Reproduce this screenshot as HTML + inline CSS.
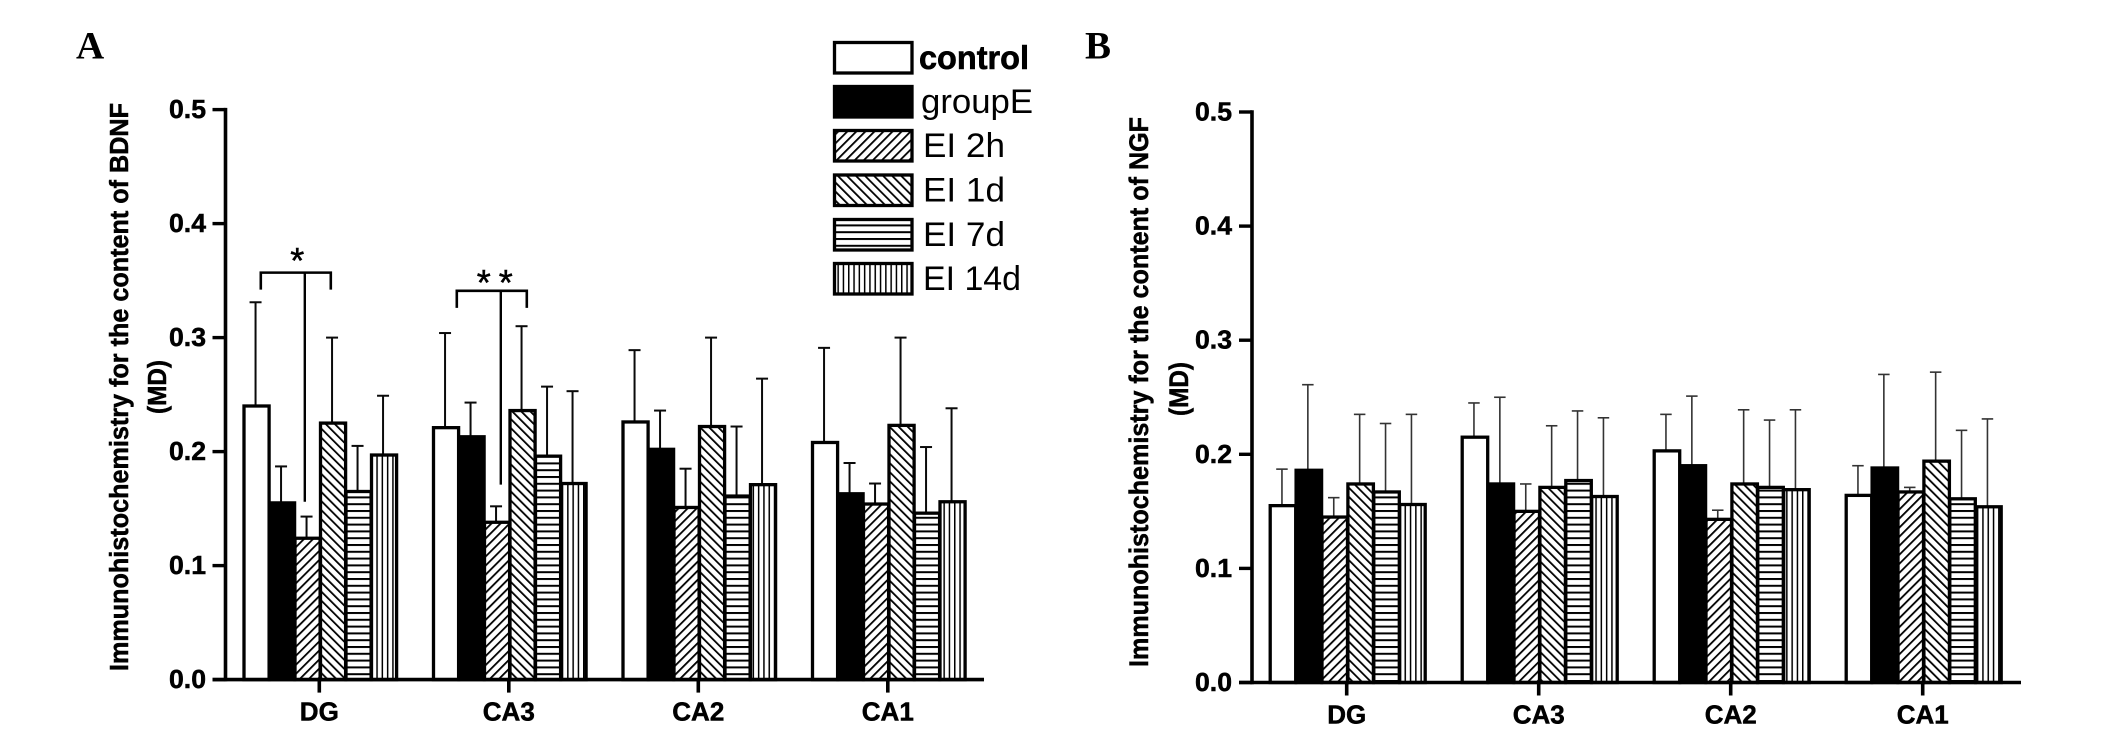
<!DOCTYPE html>
<html lang="en">
<head>
<meta charset="utf-8">
<title>BDNF and NGF immunohistochemistry</title>
<style>
html,body{margin:0;padding:0;background:#fff;}
svg{display:block;}
text{fill:#000;font-family:"Liberation Sans",sans-serif;}
.serif{font-family:"Liberation Serif",serif;font-weight:bold;}
.bold{font-weight:bold;stroke:#000;stroke-width:0.5px;}
</style>
</head>
<body>
<svg id="figure" xmlns="http://www.w3.org/2000/svg" width="2126" height="752" viewBox="0 0 2126 752">
  <defs>
    <pattern id="hatch-up" patternUnits="userSpaceOnUse" width="6.4" height="6.4" patternTransform="rotate(45)">
      <rect width="6.4" height="6.4" fill="#fff"/><rect x="0" y="0" width="1.8" height="6.4" fill="#000"/>
    </pattern>
    <pattern id="hatch-down" patternUnits="userSpaceOnUse" width="6.4" height="6.4" patternTransform="rotate(-45)">
      <rect width="6.4" height="6.4" fill="#fff"/><rect x="0" y="0" width="1.8" height="6.4" fill="#000"/>
    </pattern>
    <pattern id="hatch-h" patternUnits="userSpaceOnUse" width="8" height="6.8">
      <rect width="8" height="6.8" fill="#fff"/><rect x="0" y="0" width="8" height="2" fill="#000"/>
    </pattern>
    <pattern id="hatch-v" patternUnits="userSpaceOnUse" width="5.3" height="8">
      <rect width="5.3" height="8" fill="#fff"/><rect x="0" y="0" width="1.5" height="8" fill="#000"/>
    </pattern>
  </defs>
  <rect width="2126" height="752" fill="#fff"/>

  <text class="serif" x="76" y="58.5" font-size="39">A</text>
  <text class="serif" x="1085" y="58.5" font-size="39">B</text>

  <g id="panel-a">
    <text class="bold" transform="translate(128,387) rotate(-90)" text-anchor="middle" font-size="25.5" textLength="568" lengthAdjust="spacingAndGlyphs">Immunohistochemistry for the content of BDNF</text>
    <text class="bold" transform="translate(166,387) rotate(-90)" text-anchor="middle" font-size="25.5" textLength="54" lengthAdjust="spacingAndGlyphs">(MD)</text>
  </g>
  <g id="panel-b">
    <text class="bold" transform="translate(1148,392) rotate(-90)" text-anchor="middle" font-size="27" textLength="550" lengthAdjust="spacingAndGlyphs">Immunohistochemistry for the content of NGF</text>
    <text class="bold" transform="translate(1188,389) rotate(-90)" text-anchor="middle" font-size="27" textLength="54" lengthAdjust="spacingAndGlyphs">(MD)</text>
  </g>
  <g id="legend"></g>
</svg>

<script>
// Chart data. Each row is one brain region; columns follow seriesNames.
const categories = ['DG', 'CA3', 'CA2', 'CA1'];
const seriesNames = ['control', 'groupE', 'EI 2h', 'EI 1d', 'EI 7d', 'EI 14d'];
const yTicks = [0, 0.1, 0.2, 0.3, 0.4, 0.5];
const yTickLabels = ['0.0', '0.1', '0.2', '0.3', '0.4', '0.5'];

const bdnfMeans = [
  [0.240, 0.155, 0.124, 0.225, 0.165, 0.197],
  [0.221, 0.213, 0.138, 0.236, 0.196, 0.172],
  [0.226, 0.202, 0.151, 0.222, 0.161, 0.171],
  [0.208, 0.163, 0.154, 0.223, 0.146, 0.156]
];
const bdnfUpper = [
  [0.331, 0.187, 0.143, 0.300, 0.205, 0.249],
  [0.304, 0.243, 0.152, 0.310, 0.257, 0.253],
  [0.289, 0.236, 0.185, 0.300, 0.222, 0.264],
  [0.291, 0.190, 0.172, 0.300, 0.204, 0.238]
];
const ngfMeans = [
  [0.155, 0.186, 0.145, 0.174, 0.167, 0.156],
  [0.215, 0.174, 0.150, 0.171, 0.177, 0.163],
  [0.203, 0.190, 0.143, 0.174, 0.171, 0.169],
  [0.164, 0.188, 0.167, 0.194, 0.161, 0.154]
];
const ngfUpper = [
  [0.187, 0.261, 0.162, 0.235, 0.227, 0.235],
  [0.245, 0.250, 0.174, 0.225, 0.238, 0.232],
  [0.235, 0.251, 0.151, 0.239, 0.230, 0.239],
  [0.190, 0.270, 0.171, 0.272, 0.221, 0.231]
];
// Significance annotations on panel A: group index, bracket level, lower end of the stem, star count
const sigCategories = [0, 1];
const sigLevels = [0.357, 0.341];
const sigStemEnds = [0.156, 0.171];
const sigStarCounts = [1, 2];

const NS = 'http://www.w3.org/2000/svg';
const seriesFills = ['#fff', '#000', 'url(#hatch-up)', 'url(#hatch-down)', 'url(#hatch-h)', 'url(#hatch-v)'];

function mk(parent, tag, attrs, txt) {
  const el = document.createElementNS(NS, tag);
  for (const k in attrs) el.setAttribute(k, attrs[k]);
  if (txt !== undefined) el.textContent = txt;
  parent.appendChild(el);
  return el;
}

function drawPanel(parentId, suffix, means, upper, cfg) {
  const parent = document.getElementById(parentId);
  const y = v => cfg.y0 - v * cfg.yPerUnit;
  const xCenter = g => cfg.x0 + g * cfg.step;
  const xBar = (g, s) => xCenter(g) + (s - seriesNames.length / 2) * cfg.barW;

  categories.forEach((cat, g) => {
    seriesNames.forEach((ser, s) => {
      const cx = xBar(g, s) + cfg.barW / 2;
      const stem = mk(parent, 'line', {x1: cx, x2: cx, y1: y(means[g][s]), y2: y(upper[g][s]), stroke: cfg.errColor, 'stroke-width': cfg.errW});
      
      
      const cap = mk(parent, 'line', {x1: cx - cfg.capW / 2, x2: cx + cfg.capW / 2, y1: y(upper[g][s]), y2: y(upper[g][s]), stroke: cfg.errColor, 'stroke-width': cfg.errW});
      
      
    });
    seriesNames.forEach((ser, s) => {
      const bar = mk(parent, 'rect', {x: xBar(g, s) + 1.2, y: y(means[g][s]), width: cfg.barW - 0.4, height: cfg.y0 - y(means[g][s]), fill: seriesFills[s], stroke: '#000', 'stroke-width': 3.3});
      
      
    });
  });

  const yAxis = mk(parent, 'line', {x1: cfg.axisX, x2: cfg.axisX, y1: y(0.5) - 1.7, y2: cfg.y0 + 1.7, stroke: '#000', 'stroke-width': 3.6});
  
  
  const xAxis = mk(parent, 'line', {x1: cfg.axisX - 13, x2: cfg.axisEnd, y1: cfg.y0, y2: cfg.y0, stroke: '#000', 'stroke-width': 3.6});
  
  

  yTicks.forEach((v, i) => {
    const tick = mk(parent, 'line', {x1: cfg.axisX - 13, x2: cfg.axisX, y1: y(v), y2: y(v), stroke: '#000', 'stroke-width': 3.4});
    
    
    const label = mk(parent, 'text', {class: 'bold', x: cfg.tickLabelX, y: y(v) + 8.5, 'text-anchor': 'end', 'font-size': 25.5, textLength: 37, lengthAdjust: 'spacingAndGlyphs'}, yTickLabels[i]);
    
    
  });

  categories.forEach((cat, g) => {
    const tick = mk(parent, 'line', {x1: xCenter(g), x2: xCenter(g), y1: cfg.y0, y2: cfg.y0 + 13, stroke: '#000', 'stroke-width': 3.6});
    
    
    const label = mk(parent, 'text', {class: 'bold', x: xCenter(g), y: cfg.y0 + 41, 'text-anchor': 'middle', 'font-size': 26}, cat);
    
    
  });
  return {y, xBar};
}

const scaleA = drawPanel('panel-a', 'a', bdnfMeans, bdnfUpper, {
  y0: 679.6, yPerUnit: 1140, x0: 319.3, step: 189.5, barW: 25.5, axisX: 225.5, axisEnd: 984,
  tickLabelX: 206, errColor: '#0a0a0a', errW: 2, capW: 12
});
drawPanel('panel-b', 'b', ngfMeans, ngfUpper, {
  y0: 682.5, yPerUnit: 1141, x0: 1346.7, step: 192, barW: 25.9, axisX: 1252, axisEnd: 2021,
  tickLabelX: 1232, errColor: '#333', errW: 1.6, capW: 11.5
});

// Significance brackets on panel A (control vs EI 1d); geometry offsets are relative to the group's first bar
const panelA = document.getElementById('panel-a');
sigCategories.forEach((g, i) => {
  const base = scaleA.xBar(g, 0);
  const second = i === 1;
  const left = base + (second ? 24.5 : 18);
  const right = base + (second ? 94.5 : 88);
  const mid = base + (second ? 68.5 : 62);
  const top = scaleA.y(sigLevels[i]);
  const br = mk(panelA, 'path', {d: 'M' + left + ' ' + (top + 17) + 'V' + top + 'H' + right + 'V' + (top + 17), fill: 'none', stroke: '#000', 'stroke-width': 2.6});
  
  
  const stem = mk(panelA, 'line', {x1: mid, x2: mid, y1: top, y2: scaleA.y(sigStemEnds[i]), stroke: '#000', 'stroke-width': 2.4});
  
  
  for (let n = 0; n < sigStarCounts[i]; n++) {
    const sx = second ? base + 51.5 + n * 22 : base + 54.5;
    const star = mk(panelA, 'text', {x: sx, y: second ? top + 4 : top + 0.5, 'text-anchor': 'middle', 'font-size': 36, stroke: '#000', 'stroke-width': 0.5}, '*');
    
    
  }
});

// Legend
const legend = document.getElementById('legend');
const legendRowTops = [42.5, 86.5, 130.5, 175, 219.5, 263.5];
const legendTextX = [919, 921, 923, 923, 923, 923];
const legendTextW = [110, 112, 82, 82, 82, 98];
seriesNames.forEach((ser, s) => {
  const top = legendRowTops[s];
  const swatch = mk(legend, 'rect', {x: 834.5, y: top, width: 77.5, height: 30.5, fill: seriesFills[s], stroke: '#000', 'stroke-width': 3.3});
  
  
  const label = mk(legend, 'text', {x: legendTextX[s], y: top + 26.5, 'font-size': s === 0 ? 33 : 34.5, 'font-weight': s === 0 ? 'bold' : 'normal', textLength: legendTextW[s], lengthAdjust: 'spacingAndGlyphs', stroke: s === 0 ? '#000' : 'none', 'stroke-width': 0.6}, ser);
  
  
});
</script>
</body>
</html>
